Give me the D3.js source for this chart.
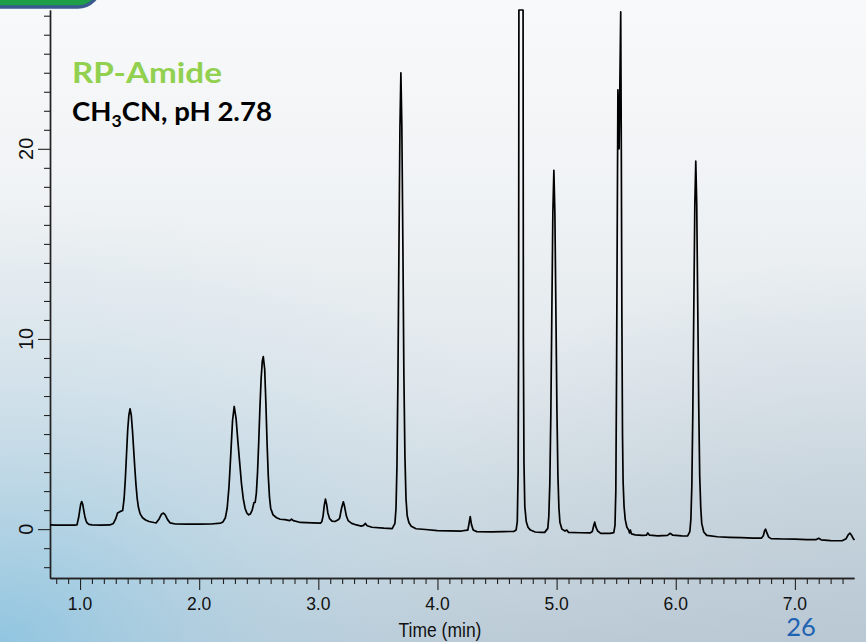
<!DOCTYPE html>
<html>
<head>
<meta charset="utf-8">
<script src="https://cdn.jsdelivr.net/npm/d3@7"></script>
<style>
  html, body { margin: 0; padding: 0; background: #eef2f5; }
  svg { display: block; }
</style>
</head>
<body>
<svg id="chart" width="866" height="642"></svg>
<script>
// Chromatogram trace: retention time (min) and detector signal
const times = [
  0.748, 0.80, 0.90, 0.96, 0.975, 0.980, 0.9885, 0.997, 1.0055, 1.014, 1.0225, 1.031, 1.040, 1.050, 1.060, 1.075, 1.10,
  1.18, 1.25, 1.28, 1.30, 1.315, 1.335, 1.358, 1.370, 1.380, 1.390, 1.400, 1.410, 1.420, 1.430, 1.440, 1.450, 1.460,
  1.470, 1.480, 1.490, 1.505, 1.525, 1.55, 1.58, 1.62, 1.64, 1.665, 1.685, 1.70, 1.715, 1.735, 1.755, 1.80, 1.90, 2.00,
  2.10, 2.18, 2.20, 2.22, 2.235, 2.25, 2.26, 2.27, 2.28, 2.294, 2.31, 2.325, 2.34, 2.355, 2.37, 2.385, 2.40, 2.415,
  2.43, 2.445, 2.46, 2.47, 2.48, 2.49, 2.50, 2.51, 2.52, 2.53, 2.538, 2.55, 2.56, 2.57, 2.58, 2.59, 2.60, 2.62, 2.65,
  2.68, 2.72, 2.76, 2.775, 2.79, 2.85, 2.95, 3.02, 3.03, 3.04, 3.05, 3.06, 3.07, 3.08, 3.095, 3.115, 3.14, 3.17, 3.18,
  3.195, 3.21, 3.22, 3.235, 3.25, 3.28, 3.32, 3.36, 3.38, 3.395, 3.41, 3.45, 3.55, 3.62, 3.643, 3.652, 3.660, 3.668,
  3.6765, 3.685, 3.693, 3.701, 3.710, 3.718, 3.727, 3.736, 3.746, 3.76, 3.78, 3.82, 3.90, 4.00, 4.10, 4.20, 4.25,
  4.255, 4.265, 4.275, 4.285, 4.30, 4.33, 4.45, 4.55, 4.64, 4.66, 4.670, 4.677, 4.681, 4.6835, 4.701, 4.7185, 4.721,
  4.726, 4.733, 4.745, 4.76, 4.78, 4.82, 4.87, 4.90, 4.926, 4.9345, 4.943, 4.9515, 4.960, 4.9685, 4.977, 4.9855, 4.994,
  5.0025, 5.011, 5.0195, 5.028, 5.045, 5.07, 5.085, 5.10, 5.20, 5.28, 5.30, 5.31, 5.32, 5.33, 5.345, 5.37, 5.45, 5.48,
  5.490, 5.497, 5.503, 5.509, 5.5145, 5.5245, 5.538, 5.543, 5.548, 5.553, 5.558, 5.566, 5.576, 5.59, 5.605, 5.612,
  5.619, 5.628, 5.66, 5.72, 5.755, 5.765, 5.78, 5.85, 5.93, 5.955, 5.975, 6.05, 6.10, 6.118, 6.127, 6.135, 6.143,
  6.1515, 6.160, 6.168, 6.176, 6.1845, 6.193, 6.201, 6.210, 6.218, 6.235, 6.26, 6.35, 6.45, 6.55, 6.65, 6.72, 6.735,
  6.745, 6.754, 6.765, 6.78, 6.80, 6.90, 7.00, 7.10, 7.18, 7.20, 7.22, 7.30, 7.38, 7.40, 7.43, 7.447, 7.462, 7.478,
  7.49, 7.50
];
const signal = [
  0.22, 0.21, 0.21, 0.21, 0.23, 0.38, 0.61, 0.96, 1.30, 1.45, 1.31, 1.00, 0.68, 0.45, 0.32, 0.25, 0.22,
  0.21, 0.22, 0.30, 0.55, 0.85, 0.92, 0.98, 1.60, 2.60, 3.90, 5.20, 6.00, 6.33, 6.00, 5.20, 4.20, 3.20,
  2.30, 1.60, 1.15, 0.80, 0.60, 0.48, 0.40, 0.35, 0.33, 0.55, 0.80, 0.84, 0.75, 0.50, 0.33, 0.27, 0.26, 0.26,
  0.27, 0.32, 0.38, 0.60, 1.10, 2.20, 3.30, 4.50, 5.70, 6.45, 5.80, 4.60, 3.50, 2.40, 1.60, 1.10, 0.85, 0.75,
  0.80, 1.00, 1.40, 1.40, 1.90, 3.00, 4.60, 6.40, 7.90, 8.85, 9.07, 8.40, 6.60, 4.50, 2.80, 1.70, 1.10, 0.75, 0.60,
  0.52, 0.50, 0.45, 0.52, 0.45, 0.35, 0.33, 0.32, 0.40, 0.70, 1.25, 1.58, 1.30, 0.85, 0.55, 0.42, 0.40, 0.50, 0.60,
  1.10, 1.44, 1.20, 0.70, 0.45, 0.30, 0.22, 0.16, 0.20, 0.30, 0.18, 0.10, 0.05, 0.03, 0.30, 1.10, 3.30, 7.80,
  14.6, 21.1, 24.0, 21.2, 14.8, 8.20, 3.80, 1.60, 0.70, 0.35, 0.15, 0.02, -0.02, -0.08, -0.09, -0.10, -0.05,
  -0.05, 0.30, 0.66, 0.25, -0.05, -0.13, -0.14, -0.13, -0.12, -0.05, 0.40, 3.00, 10.0, 30.0, 60.0, 30.0, 10.0,
  3.50, 1.20, 0.40, 0.10, -0.05, -0.15, -0.17, -0.17, 0.04, 0.67, 2.40, 6.02, 11.39, 16.63, 18.87, 16.63, 11.50,
  6.30, 2.80, 1.10, 0.35, 0.00, -0.10, -0.05, -0.17, -0.19, -0.20, -0.12, 0.15, 0.37, 0.10, -0.10, -0.22, -0.22, -0.18,
  0.20, 2.00, 8.00, 16.0, 23.1, 20.0, 27.2, 20.0, 11.0, 5.00, 2.50, 1.20, 0.50, 0.10, -0.05, -0.20,
  -0.05, -0.25, -0.30, -0.33, -0.32, -0.20, -0.32, -0.35, -0.33, -0.22, -0.32, -0.35, -0.36, -0.13, 0.52, 2.31, 6.05,
  11.61, 17.04, 19.35, 17.10, 11.80, 6.40, 2.80, 1.10, 0.30, -0.15, -0.33, -0.40, -0.43, -0.45, -0.47, -0.47, -0.35,
  -0.10, 0.00, -0.20, -0.42, -0.50, -0.52, -0.53, -0.55, -0.55, -0.48, -0.56, -0.60, -0.61, -0.60, -0.50, -0.30, -0.21, -0.35,
  -0.50, -0.57
];

// Axis ticks
const xMajorTicks = [1, 2, 3, 4, 5, 6, 7];
const xTickLabels = ["1.0", "2.0", "3.0", "4.0", "5.0", "6.0", "7.0"];
const yMajorTicks = [0, 10, 20];
const yTickLabels = ["0", "10", "20"];

// Annotations
const columnName = "RP-Amide";
const axisTitle = "Time (min)";
const slideNumber = "26";

const svg = d3.select("#chart");
const W = 866, H = 642;

// ---- slide background ----
const defs = svg.append("defs");
const lg = defs.append("linearGradient").attr("id", "bg").attr("x1", 0).attr("y1", 0).attr("x2", 0).attr("y2", 1);
lg.append("stop").attr("offset", "0%").attr("stop-color", "#f8f9fa");
lg.append("stop").attr("offset", "30%").attr("stop-color", "#f0f3f5");
lg.append("stop").attr("offset", "60%").attr("stop-color", "#e0e7ec");
lg.append("stop").attr("offset", "85%").attr("stop-color", "#cbd8e0");
lg.append("stop").attr("offset", "100%").attr("stop-color", "#bccbd6");
const rg = defs.append("radialGradient").attr("id", "glow")
  .attr("cx", 0).attr("cy", 1).attr("r", 0.7);
rg.append("stop").attr("offset", "0%").attr("stop-color", "#86c4e3").attr("stop-opacity", 0.8);
rg.append("stop").attr("offset", "45%").attr("stop-color", "#add3e7").attr("stop-opacity", 0.4);
rg.append("stop").attr("offset", "100%").attr("stop-color", "#c9dbe6").attr("stop-opacity", 0);
const rg2 = defs.append("radialGradient").attr("id", "glow2")
  .attr("cx", 1).attr("cy", 1).attr("r", 0.6);
rg2.append("stop").attr("offset", "0%").attr("stop-color", "#b7c6d2").attr("stop-opacity", 0.6);
rg2.append("stop").attr("offset", "100%").attr("stop-color", "#b7c6d2").attr("stop-opacity", 0);

svg.append("rect").attr("width", W).attr("height", H).attr("fill", "url(#bg)");
svg.append("rect").attr("width", W).attr("height", H).attr("fill", "url(#glow)");
svg.append("rect").attr("width", W).attr("height", H).attr("fill", "url(#glow2)");

// title tab in the top-left corner
svg.append("rect")
  .attr("x", -30).attr("y", -40).attr("width", 130).attr("height", 47).attr("rx", 22)
  .attr("fill", "#1f9e4a").attr("stroke", "#3a5b8e").attr("stroke-width", 3.5);

// ---- scales ----
const x = d3.scaleLinear().domain([0.748, 7.496]).range([50, 854]);
const y = d3.scaleLinear().domain([-2.57, 27.3]).range([578, 10]);
const yMax = y.domain()[1];

// ---- axes ----
const axisColor = "#222";
const xMinor = d3.range(8, 75).map(d => d / 10).filter(d => Math.abs(d - Math.round(d)) > 1e-6);
const yMinor = d3.range(-2, 28).filter(d => d % 10 !== 0);

const gx = svg.append("g").attr("transform", "translate(0,578)");
gx.call(d3.axisBottom(x).tickValues(xMinor).tickSize(6).tickSizeOuter(0).tickFormat(""));
gx.call(g => g.append("g").call(d3.axisBottom(x).tickValues(xMajorTicks).tickSize(12).tickSizeOuter(0).tickFormat("")));
gx.selectAll("path.domain").attr("stroke", axisColor).attr("stroke-width", 1.4);
gx.selectAll(".tick line").attr("stroke", axisColor).attr("stroke-width", 1.1);

const gy = svg.append("g").attr("transform", "translate(50,0)");
gy.call(d3.axisLeft(y).tickValues(yMinor).tickSize(6).tickSizeOuter(0).tickFormat(""));
gy.call(g => g.append("g").call(d3.axisLeft(y).tickValues(yMajorTicks).tickSize(12).tickSizeOuter(0).tickFormat("")));
gy.selectAll("path.domain").attr("stroke", axisColor).attr("stroke-width", 1.4);
gy.selectAll(".tick line").attr("stroke", axisColor).attr("stroke-width", 1.1);

// tick labels
svg.append("g").selectAll("text").data(xMajorTicks).join("text")
  .attr("x", d => x(d)).attr("y", 610)
  .attr("text-anchor", "middle")
  .attr("font-family", "Liberation Sans, Arial, sans-serif")
  .attr("font-size", 17.5).attr("fill", "#111")
  .text((d, i) => xTickLabels[i]);

svg.append("g").selectAll("text").data(yMajorTicks).join("text")
  .attr("transform", d => `translate(33,${y(d)}) rotate(-90)`)
  .attr("text-anchor", "middle")
  .attr("font-family", "Liberation Sans, Arial, sans-serif")
  .attr("font-size", 20).attr("fill", "#111")
  .text((d, i) => yTickLabels[i]);

svg.append("text")
  .attr("transform", "translate(440,637) scale(1,1.18)")
  .attr("text-anchor", "middle")
  .attr("font-family", "Liberation Sans, Arial, sans-serif")
  .attr("font-size", 17.5).attr("fill", "#111")
  .text(axisTitle);

// ---- trace ----
const pts = times.map((t, i) => [t, signal[i]]);
const line = d3.line()
  .x(d => x(d[0]))
  .y(d => y(Math.min(d[1], yMax)));
svg.append("path")
  .datum(pts)
  .attr("d", line)
  .attr("fill", "none")
  .attr("stroke", "#000")
  .attr("stroke-width", 1.7)
  .attr("stroke-linejoin", "round");

// ---- labels ----
// stretch a label horizontally so it spans the given width from its left edge
function fitWidth(sel, left, width) {
  const w = sel.node().getComputedTextLength();
  sel.attr("transform", `translate(${left},0) scale(${width / w},1) translate(${-left},0)`);
}

const nameText = svg.append("text")
  .attr("x", 72).attr("y", 83)
  .attr("font-family", "Lato, 'Open Sans', sans-serif")
  .attr("font-weight", 700).attr("font-size", 29)
  .attr("fill", "#92d050")
  .text(columnName);
fitWidth(nameText, 72, 150);

const cond = svg.append("text")
  .attr("x", 72).attr("y", 121)
  .attr("font-family", "Lato, 'Open Sans', sans-serif")
  .attr("font-weight", 700).attr("font-size", 26.5)
  .attr("fill", "#000");
cond.append("tspan").text("CH");
cond.append("tspan").attr("font-size", 17).attr("dy", 6).text("3");
cond.append("tspan").attr("dy", -6).text("CN, pH 2.78");
fitWidth(cond, 72, 200);

svg.append("text")
  .attr("x", 801).attr("y", 636)
  .attr("text-anchor", "middle")
  .attr("font-family", "Lato, 'Open Sans', sans-serif")
  .attr("font-size", 25.5).attr("fill", "#1f63b3")
  .text(slideNumber);
</script>
</body>
</html>
